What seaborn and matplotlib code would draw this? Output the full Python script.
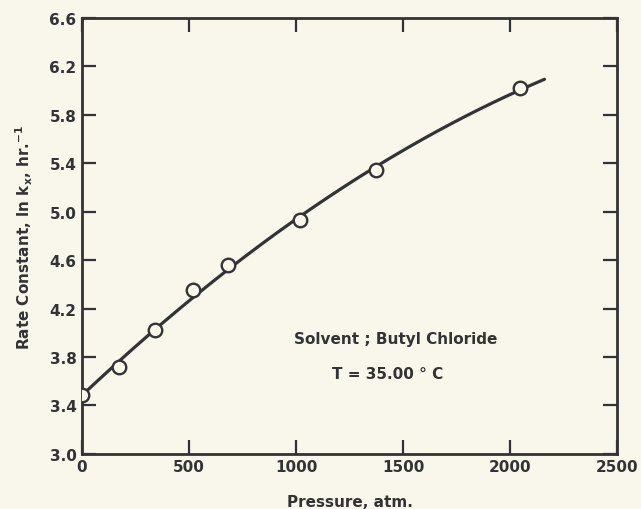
import numpy as np
import pandas as pd
import matplotlib
matplotlib.use("Agg")
import matplotlib.pyplot as plt
import seaborn as sns

# values
pressure = [0, 173, 341, 519, 682, 1019, 1372, 2047]
rate_const = [3.49, 3.72, 4.02, 4.35, 4.56, 4.93, 5.34, 6.02]
curve_end = 2160

BG = "#f9f7ec"
INK = "#333333"

sns.set_theme(style="ticks")
plt.rcParams["font.family"] = ["DejaVu Sans"]
plt.rcParams["font.weight"] = "bold"

df = pd.DataFrame({"Pressure": pressure, "RateConstant": rate_const})

# smooth curve: least-squares quadratic through the measured points
coef = np.polyfit(df["Pressure"], df["RateConstant"], 2)
xs = np.linspace(0, curve_end, 200)
fit = pd.DataFrame({"Pressure": xs, "RateConstant": np.polyval(coef, xs)})

fig = plt.figure(figsize=(6.41, 5.10), dpi=100, facecolor=BG)
ax = fig.add_axes([0.128, 0.108, 0.835, 0.855])
ax.set_facecolor(BG)

sns.lineplot(data=fit, x="Pressure", y="RateConstant", ax=ax, color=INK, lw=2.3)
sns.scatterplot(data=df, x="Pressure", y="RateConstant", ax=ax, s=95,
                facecolor=BG, edgecolor=INK, linewidth=1.7, zorder=3)

ax.set_xlim(0, 2500)
ax.set_ylim(3.0, 6.6)
ax.set_xticks([0, 500, 1000, 1500, 2000, 2500])
ax.set_yticks(np.arange(3.0, 6.61, 0.4))
ax.set_yticklabels([f"{v:.1f}" for v in np.arange(3.0, 6.61, 0.4)])
ax.tick_params(direction="in", length=10, width=1.6, color=INK, labelcolor=INK,
               labelsize=11, top=True, right=True, pad=4)
for s in ax.spines.values():
    s.set_color(INK)
    s.set_linewidth(2)

ax.set_xlabel("Pressure, atm.", fontsize=11, color=INK, fontweight="bold", labelpad=14)
ax.set_ylabel("Rate Constant, ln k$_\\mathbf{x}$, hr.$^{\\mathbf{-1}}$", fontsize=11,
              color=INK, fontweight="bold", labelpad=10)

ax.text(1463, 3.95, "Solvent ; Butyl Chloride", ha="center", va="center",
        fontsize=11, color=INK, fontweight="bold")
ax.text(1425, 3.66, "T = 35.00 ° C", ha="center", va="center",
        fontsize=11, color=INK, fontweight="bold")

fig.savefig("out.png", dpi=100, facecolor=BG)
